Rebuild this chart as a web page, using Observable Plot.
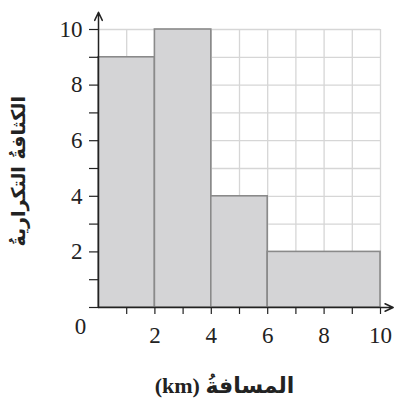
<!DOCTYPE html>
<html>
<head>
<meta charset="utf-8">
<script src="https://cdn.jsdelivr.net/npm/d3@7"></script>
<script src="https://cdn.jsdelivr.net/npm/@observablehq/plot@0.6"></script>
<style>
  html, body { margin: 0; padding: 0; background: #fff; }
</style>
</head>
<body>
<div id="chart"></div>
<script>
const binStart = [0, 2, 4, 6];
const binEnd = [2, 4, 6, 10];
const density = [9, 10, 4, 2];
const tickValues = [1, 2, 3, 4, 5, 6, 7, 8, 9, 10];
const gridValues = [1, 2, 3, 4, 5, 6, 7, 8, 9, 10];
const xLabel = "المسافةُ (km)";
const yLabel = "الكثافةُ التكراريةُ";

const bars = binStart.map((s, i) => ({x1: s, x2: binEnd[i], y: density[i]}));
const serif = "'Liberation Serif', 'DejaVu Serif', serif";
const fmt = d => (d % 2 === 0 ? String(d) : "");

const chart = Plot.plot({
  width: 396,
  height: 405,
  marginLeft: 98,
  marginRight: 16,
  marginTop: 29,
  marginBottom: 98,
  style: {fontFamily: serif, fontSize: "23px", color: "#222", background: "#fff", overflow: "visible"},
  x: {domain: [0, 10], label: null},
  y: {domain: [0, 10], label: null},
  marks: [
    Plot.gridX(gridValues, {stroke: "#d6d6d6", strokeOpacity: 1, strokeWidth: 1.3}),
    Plot.gridY(gridValues, {stroke: "#d6d6d6", strokeOpacity: 1, strokeWidth: 1.3}),
    Plot.rectY(bars, {x1: "x1", x2: "x2", y: "y", fill: "#d4d4d6", stroke: "#8a8a8a", strokeWidth: 1.6}),
    Plot.axisX(tickValues, {tickSize: 7, tickPadding: 12, tickFormat: fmt, fontSize: 23, stroke: "#222", strokeWidth: 1.2, fill: "#222"}),
    Plot.axisY([0, ...tickValues], {tickSize: 9, tickPadding: 7, tickFormat: d => (d === 0 ? "" : fmt(d)), fontSize: 23, stroke: "#222", strokeWidth: 1.2, fill: "#222"}),
    Plot.text([0], {x: d => d, y: d => d, text: d => String(d), dx: -18, dy: 19, fontSize: 23, fill: "#222"}),
    Plot.arrow([{x1: 0, y1: 0, x2: 0, y2: 10.62}], {x1: "x1", y1: "y1", x2: "x2", y2: "y2", stroke: "#222", strokeWidth: 1.5, headLength: 9, headAngle: 50}),
    Plot.arrow([{x1: 0, y1: 0, x2: 10.45, y2: 0}], {x1: "x1", y1: "y1", x2: "x2", y2: "y2", stroke: "#222", strokeWidth: 1.5, headLength: 9, headAngle: 50}),
    Plot.text([xLabel], {x: 4.47, y: 0, text: d => d, dy: 78, fontSize: 22, fontWeight: "bold", fill: "#222", fontFamily: "'Liberation Serif', 'DejaVu Sans', serif"}),
    Plot.text([yLabel], {x: 0, y: 4.9, text: d => d, dx: -80, rotate: -90, fontSize: 19, fontWeight: "bold", fill: "#222", fontFamily: "'DejaVu Sans', 'Noto Sans', sans-serif"})
  ]
});
d3.select(chart).selectAll("text").filter(function() { return this.textContent === xLabel || this.textContent === yLabel; })
  .attr("direction", "rtl").attr("unicode-bidi", "embed");
document.getElementById("chart").appendChild(chart);
</script>
</body>
</html>
